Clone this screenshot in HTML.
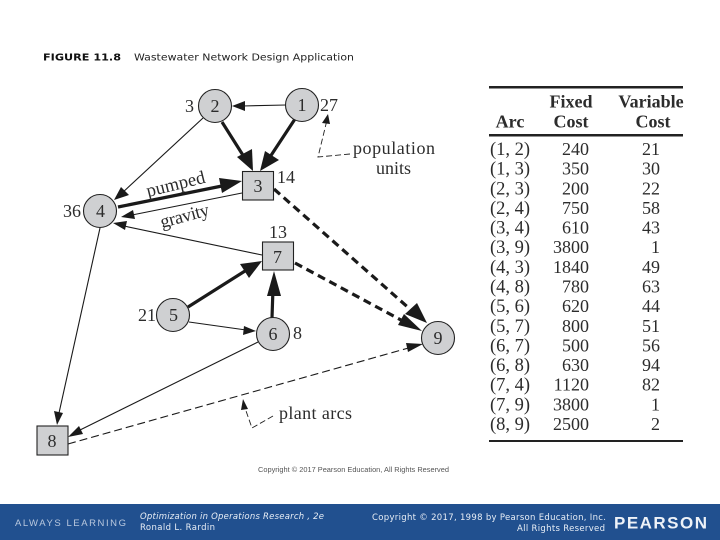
<!DOCTYPE html>
<html><head><meta charset="utf-8"><style>
html,body{margin:0;padding:0;background:#fff;width:720px;height:540px;overflow:hidden}
svg{display:block}
.s{font-family:"Liberation Serif",serif;fill:#2c2c2c}
.d{font-family:"DejaVu Sans",sans-serif}
.t{stroke:#1a1a1a;stroke-width:1.1;fill:none}
.b{stroke:#1a1a1a;stroke-width:3.2;fill:none}
.n{fill:#cfd0d2;stroke:#222;stroke-width:1.1}
</style></head><body>
<svg width="720" height="540" viewBox="0 0 720 540" xmlns="http://www.w3.org/2000/svg">
<rect width="720" height="540" fill="#fff"/>
<text class="d" x="43" y="60.500" font-size="9.500" font-weight="bold" fill="#111" textLength="78" lengthAdjust="spacingAndGlyphs">FIGURE 11.8</text>
<text class="d" x="134" y="60.500" font-size="10" fill="#222" textLength="220" lengthAdjust="spacingAndGlyphs">Wastewater Network Design Application</text>

<!-- thin edges -->
<path class="t" d="M286 105L242 106M203 118L122 193M242 193L132 215M262 255L124 226M100 228L59 413M258 342L78 431M189 322L246 330"/>
<polygon fill="#1a1a1a" points="232,106 245,101 245,111"/>
<polygon fill="#1a1a1a" points="114,200 121,187 129,195"/>
<polygon fill="#1a1a1a" points="121,217 133,210 135,219"/>
<polygon fill="#1a1a1a" points="113,223 127,221 125,230"/>
<polygon fill="#1a1a1a" points="57,425 54,411 63,413"/>
<polygon fill="#1a1a1a" points="68,437 79,426 83,434"/>
<polygon fill="#1a1a1a" points="256,331 243,335 244,326"/>
<!-- thick edges -->
<path class="b" d="M295 119L268 160M222 122L246 160M118 207L222 186M188 307L245 271M272 318L273 288"/>
<polygon fill="#1a1a1a" points="260,171 265,151 279,160"/>
<polygon fill="#1a1a1a" points="253,171 237,157 252,149"/>
<polygon fill="#1a1a1a" points="242,181 219,178 222,193"/>
<polygon fill="#1a1a1a" points="262,261 249,278 240,264"/>
<polygon fill="#1a1a1a" points="274,271 281,296 267,296"/>
<!-- thick dashed -->
<path class="b" stroke-dasharray="8 5" d="M274 189L411 310M295 263L401 320"/>
<polygon fill="#1a1a1a" points="427,323 405,314 417,303"/>
<polygon fill="#1a1a1a" points="422,331 398,325 404,314"/>
<!-- thin dashed -->
<path class="t" stroke-dasharray="8 4" d="M68 444L412 347"/>
<polygon fill="#1a1a1a" points="423,344 408,352 406,343"/>
<path stroke="#222" stroke-width="0.900" fill="none" stroke-dasharray="6 3" d="M350 154L318 157L327 120M273 416L252 428L245 408"/>
<polygon fill="#1a1a1a" points="328,114 330,124 322,123"/>
<polygon fill="#1a1a1a" points="243,399 248,409 241,410"/>

<!-- nodes -->
<circle class="n" cx="215" cy="106" r="16.500"/>
<circle class="n" cx="302" cy="105" r="16.500"/>
<circle class="n" cx="100" cy="211" r="16.500"/>
<circle class="n" cx="173" cy="315" r="16.500"/>
<circle class="n" cx="273" cy="334" r="16.500"/>
<circle class="n" cx="438" cy="338" r="16.500"/>
<rect class="n" x="242.500" y="171.500" width="31" height="28.500"/>
<rect class="n" x="262.500" y="242" width="31" height="28"/>
<rect class="n" x="37" y="426" width="31" height="29"/>
<g class="s" font-size="18" text-anchor="middle">
<text x="215" y="112">2</text><text x="302" y="111">1</text>
<text x="100.500" y="217">4</text><text x="173.500" y="321">5</text>
<text x="273" y="340">6</text><text x="438" y="344">9</text>
<text x="258" y="192">3</text><text x="277.500" y="263">7</text><text x="52" y="447">8</text>
</g>
<g class="s" font-size="18">
<text x="185" y="112">3</text><text x="320" y="111">27</text>
<text x="63" y="217">36</text><text x="138" y="321">21</text>
<text x="293" y="339">8</text><text x="277" y="183">14</text><text x="269" y="238">13</text>
<text x="353" y="154" font-size="18" textLength="82">population</text>
<text x="376" y="174" font-size="18">units</text>
<text x="279" y="419" font-size="18" textLength="73">plant arcs</text>
<text transform="translate(148 197) rotate(-14)" font-size="18.500" textLength="60">pumped</text>
<text transform="translate(162 228) rotate(-15)" font-size="18.500" textLength="50">gravity</text>
</g>
<text x="258" y="472" font-family="Liberation Sans,sans-serif" font-size="7" fill="#555" textLength="191" lengthAdjust="spacingAndGlyphs">Copyright © 2017 Pearson Education, All Rights Reserved</text>

<!-- table -->
<rect x="489" y="86" width="194" height="2.500" fill="#222"/>
<rect x="489" y="134" width="194" height="2.500" fill="#222"/>
<rect x="489" y="440" width="194" height="2" fill="#222"/>
<g class="s" font-size="18" font-weight="bold" text-anchor="middle">
<text x="571" y="107.500">Fixed</text><text x="651" y="107.500">Variable</text>
<text x="510" y="127.500">Arc</text><text x="571" y="127.500">Cost</text><text x="653" y="127.500">Cost</text>
</g>
<g class="s" font-size="18.500"><text x="490" y="155">(1, 2)</text><text x="490" y="174.600">(1, 3)</text><text x="490" y="194.300">(2, 3)</text><text x="490" y="213.900">(2, 4)</text><text x="490" y="233.600">(3, 4)</text><text x="490" y="253.200">(3, 9)</text><text x="490" y="272.900">(4, 3)</text><text x="490" y="292.500">(4, 8)</text><text x="490" y="312.100">(5, 6)</text><text x="490" y="331.800">(5, 7)</text><text x="490" y="351.400">(6, 7)</text><text x="490" y="371.100">(6, 8)</text><text x="490" y="390.700">(7, 4)</text><text x="490" y="410.400">(7, 9)</text><text x="490" y="430">(8, 9)</text></g>
<g class="s" font-size="18" text-anchor="end"><text x="589" y="155">240</text><text x="589" y="174.600">350</text><text x="589" y="194.300">200</text><text x="589" y="213.900">750</text><text x="589" y="233.600">610</text><text x="589" y="253.200">3800</text><text x="589" y="272.900">1840</text><text x="589" y="292.500">780</text><text x="589" y="312.100">620</text><text x="589" y="331.800">800</text><text x="589" y="351.400">500</text><text x="589" y="371.100">630</text><text x="589" y="390.700">1120</text><text x="589" y="410.400">3800</text><text x="589" y="430">2500</text></g>
<g class="s" font-size="18" text-anchor="end"><text x="660" y="155">21</text><text x="660" y="174.600">30</text><text x="660" y="194.300">22</text><text x="660" y="213.900">58</text><text x="660" y="233.600">43</text><text x="660" y="253.200">1</text><text x="660" y="272.900">49</text><text x="660" y="292.500">63</text><text x="660" y="312.100">44</text><text x="660" y="331.800">51</text><text x="660" y="351.400">56</text><text x="660" y="371.100">94</text><text x="660" y="390.700">82</text><text x="660" y="410.400">1</text><text x="660" y="430">2</text></g>

<!-- footer -->
<rect x="0" y="504" width="720" height="36" fill="#21508f"/>
<text x="15" y="526" font-family="Liberation Sans,sans-serif" font-size="9.500" fill="#b9c8de" textLength="111">ALWAYS LEARNING</text>
<text class="d" x="140" y="519" font-size="8.500" font-style="italic" fill="#e8eef6" textLength="184" lengthAdjust="spacing">Optimization in Operations Research , 2e</text>
<text class="d" x="140" y="530" font-size="8.500" fill="#e8eef6" textLength="75" lengthAdjust="spacing">Ronald L. Rardin</text>
<text class="d" x="372" y="520" font-size="8.500" fill="#e8eef6" textLength="234" lengthAdjust="spacing">Copyright © 2017, 1998 by Pearson Education, Inc.</text>
<text class="d" x="517" y="531" font-size="8.500" fill="#e8eef6" textLength="88" lengthAdjust="spacing">All Rights Reserved</text>
<text x="614" y="528.500" font-family="Liberation Sans,sans-serif" font-size="17" font-weight="bold" fill="#eef2f8" textLength="93">PEARSON</text>
</svg>
</body></html>
